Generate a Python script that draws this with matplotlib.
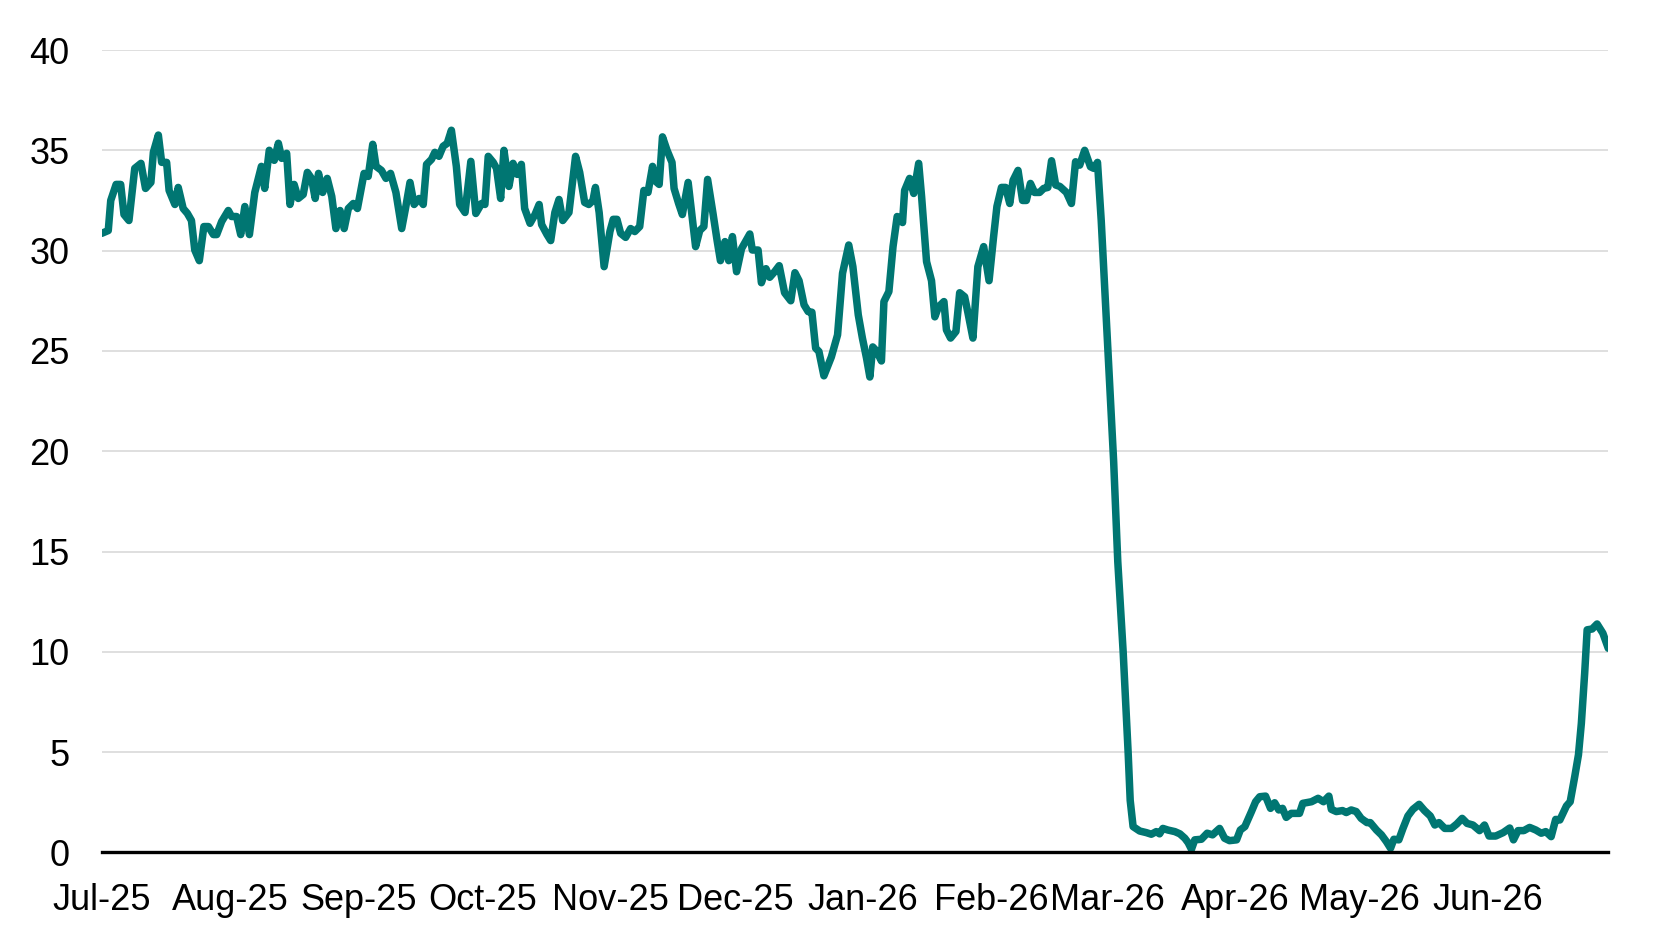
import pandas as pd
import matplotlib
matplotlib.use('Agg')
import matplotlib.pyplot as plt
import matplotlib.dates as mdates

plt.rcParams['font.family'] = ['Liberation Sans', 'DejaVu Sans']

start = '2025-07-01'

# Days after 1 Jul 2025 and the value
days = [0, 1.6, 2.2, 3.5, 4.6, 5.4, 6.6, 8.0, 9.5, 10.6, 11.9, 12.5, 13.7, 14.5, 15.7,
        16.3, 17.7, 18.5, 19.7, 20.7, 21.7, 22.5, 23.6, 24.7, 25.8, 27.0, 27.8, 29.0,
        30.6, 31.4, 32.6, 33.6, 34.6, 35.7, 37.0, 38.6, 39.4, 40.5, 41.7, 42.7, 43.5,
        44.7, 45.5, 46.5, 47.5, 48.7, 49.7, 50.7, 51.6, 52.4, 53.4, 54.5, 55.6, 56.6,
        57.6, 58.6, 59.6, 60.8, 61.8, 63.4, 64.4, 65.5, 66.3, 67.6, 68.7, 69.8, 71.1,
        72.5, 73.5, 74.5, 75.5, 76.7, 77.7, 78.5, 79.7, 80.5, 81.5, 82.5, 83.5, 84.5,
        85.7, 86.5, 87.8, 89.2, 90.4, 91.8, 92.6, 93.4, 94.6, 95.4, 96.4, 97.2, 98.4,
        99.4, 100.4, 101.4, 102.2, 103.5, 104.7, 105.7, 106.3, 107.6, 108.5, 109.5,
        110.5, 111.4, 112.9, 114.5, 115.5, 116.7, 117.7, 118.7, 119.3, 120.2, 121.4,
        122.8, 123.6, 124.5, 125.4, 126.6, 127.8, 128.8, 130.0, 131.0, 132.0, 133.1,
        133.6, 134.7, 135.5, 136.6, 137.8, 138.3, 139.4, 140.3, 141.7, 143.5, 144.5,
        145.5, 146.4, 147.7, 148.7, 149.5, 150.6, 151.5, 152.4, 153.4, 154.6, 156.6,
        157.2, 158.6, 159.4, 160.5, 161.4, 162.6, 163.7, 165.0, 166.5, 167.5, 168.5,
        169.7, 170.7, 171.6, 172.5, 173.3, 174.5, 176.3, 177.8, 179.0, 180.5, 181.5,
        182.8, 183.8, 184.8, 185.6, 186.3, 187.2, 188.4, 189.0, 190.2, 191.2, 192.2,
        193.5, 194.0, 195.2, 196.2, 197.4, 198.1, 199.3, 200.5, 201.3, 202.2, 203.5,
        204.1, 205.1, 206.4, 207.3, 208.5, 209.3, 210.5, 211.7, 213.1, 214.4, 215.5,
        216.3, 217.4, 218.4, 219.4, 220.2, 221.4, 222.5, 223.4, 224.4, 225.4, 226.6,
        227.6, 228.6, 229.5, 230.5, 231.5, 233.1, 234.3, 235.3, 236.3, 237.5, 238.9,
        239.7, 240.6, 241.5, 243.0, 244.5, 245.5, 246.8, 248.0, 248.5, 249.2, 250.8,
        252.4, 253.6, 254.8, 255.6, 256.4, 257.6, 259.3, 260.5, 261.7, 262.5, 263.3,
        264.1, 265.7, 267.1, 268.4, 270.1, 271.3, 272.5, 274.2, 275.1, 276.2, 277.8,
        278.8, 279.8, 281.2, 282.4, 283.4, 284.4, 285.3, 286.2, 287.4, 289.4, 290.2,
        292.3, 293.9, 295.2, 296.5, 297.1, 298.3, 299.8, 300.7, 301.9, 303.1, 304.3,
        305.7, 306.5, 308.0, 309.2, 310.4, 311.4, 312.2, 313.4, 314.4, 315.6, 316.8,
        318.3, 319.6, 321.0, 322.1, 323.1, 324.5, 326.1, 327.4, 328.7, 329.9, 331.3,
        332.9, 334.1, 335.2, 336.8, 338.6, 340.2, 341.1, 342.2, 343.6, 345.0, 346.5,
        347.8, 348.9, 350.2, 351.3, 352.3, 353.9, 354.8, 355.9, 356.8, 357.5, 358.3,
        358.9, 360.1, 361.3, 362.7, 364.0]
values = [30.86, 31.0, 32.5, 33.3, 33.3, 31.8, 31.5, 34.1, 34.35, 33.1, 33.4, 34.9, 35.76, 34.4, 34.4,
          33.0, 32.3, 33.15, 32.1, 31.86, 31.5, 30.03, 29.5, 31.2, 31.2, 30.8, 30.8, 31.45,
          32.0, 31.7, 31.7, 30.8, 32.2, 30.8, 32.9, 34.2, 33.1, 35.0, 34.5, 35.35, 34.6,
          34.85, 32.3, 33.3, 32.6, 32.8, 33.9, 33.6, 32.6, 33.85, 32.9, 33.6, 32.7, 31.1,
          32.0, 31.1, 32.1, 32.35, 32.1, 33.85, 33.7, 35.3, 34.2, 34.0, 33.6, 33.85, 32.9,
          31.1, 32.2, 33.4, 32.3, 32.6, 32.3, 34.3, 34.55, 34.9, 34.7, 35.2, 35.35, 36.0,
          34.2, 32.3, 31.9, 34.45, 31.85, 32.35, 32.3, 34.7, 34.4, 34.1, 32.6, 35.0, 33.2,
          34.35, 33.8, 34.3, 32.1, 31.36, 31.8, 32.3, 31.3, 30.8, 30.5, 31.9,
          32.55, 31.5, 31.9, 34.7, 33.9, 32.4, 32.3, 32.5, 33.15, 31.9, 29.2,
          30.95, 31.56, 31.56, 30.86, 30.66, 31.1, 30.95, 31.2, 33.0, 32.9, 34.2,
          33.5, 33.3, 35.67, 35.0, 34.4, 33.1, 32.35, 31.8, 33.4, 30.2, 31.0,
          31.2, 33.55, 31.86, 30.5, 29.5, 30.45, 29.5, 30.7, 28.95, 30.1, 30.83,
          30.03, 30.03, 28.4, 29.1, 28.67, 28.95, 29.25, 27.9, 27.5, 28.9, 28.5,
          27.3, 26.96, 26.93, 25.14, 24.97, 23.76, 24.7, 25.8, 28.87, 30.28, 29.2,
          26.8, 25.64, 24.64, 23.7, 25.2, 25.0, 24.5, 27.46, 27.96, 30.2, 31.7,
          31.4, 33.0, 33.6, 32.85, 34.35, 32.7, 29.45, 28.5, 26.7, 27.2, 27.46,
          26.05, 25.64, 25.97, 27.9, 27.7, 26.9, 25.64, 29.2, 30.2, 28.5, 30.7,
          32.2, 33.15, 33.15, 32.35, 33.5, 34.0, 32.5, 32.5, 33.35, 32.9, 32.9,
          33.1, 33.15, 34.48, 33.27, 33.2, 32.9, 32.35, 34.43, 34.26, 35.0, 34.18,
          34.1, 34.4, 31.5, 25.5, 19.5, 14.5, 10.0, 5.0, 2.6, 1.29, 1.07,
          0.99, 0.91, 1.04, 0.93, 1.2, 1.12, 1.04, 0.93, 0.71, 0.49, 0.16,
          0.63, 0.66, 0.96, 0.88, 1.2, 0.71, 0.59, 0.63, 1.12, 1.29, 2.04,
          2.53, 2.78, 2.81, 2.2, 2.48, 2.12, 2.2, 1.75, 1.95, 1.95, 2.45,
          2.53, 2.7, 2.53, 2.81, 2.15, 2.04, 2.09, 1.99, 2.12, 2.04, 1.7,
          1.49, 1.49, 1.12, 0.88, 0.54, 0.21, 0.66, 0.63, 1.2, 1.82, 2.15,
          2.4, 2.09, 1.82, 1.37, 1.49, 1.2, 1.2, 1.42, 1.7, 1.45, 1.37,
          1.09, 1.37, 0.82, 0.82, 0.99, 1.22, 0.63, 1.09, 1.09, 1.25, 1.12,
          0.96, 1.04, 0.79, 1.65, 1.62, 2.32, 2.53, 3.78, 4.87, 6.44, 8.93,
          11.1, 11.14, 11.39, 10.93, 10.18]
yticks = [0, 5, 10, 15, 20, 25, 30, 35, 40]

dates = pd.Timestamp(start) + pd.to_timedelta(days, unit='D')

fig = plt.figure(figsize=(16.58, 9.47), dpi=100)
ax = fig.add_axes([0.0613, 0.0998, 0.9087, 0.8474])

ax.plot(dates, values, color='#007672', linewidth=5.4,
        solid_joinstyle='round', solid_capstyle='round', zorder=3)

ax.set_ylim(0, 40)
ax.set_yticks(yticks)
ax.set_xlim(dates[0], dates[-1])
ax.xaxis.set_major_locator(mdates.MonthLocator())
ax.xaxis.set_major_formatter(mdates.DateFormatter('%b-%y'))

ax.grid(axis='y', color='#d9d9d9', linewidth=1.2, zorder=0)
ax.set_axisbelow(True)
for side in ['top', 'right', 'left']:
    ax.spines[side].set_visible(False)
ax.spines['bottom'].set_color('black')
ax.spines['bottom'].set_linewidth(2.4)
ax.spines['bottom'].set_zorder(4)

ax.tick_params(axis='both', length=0, labelsize=26)
ax.tick_params(axis='y', pad=23)
ax.tick_params(axis='x', pad=22)

fig.savefig('out.png', dpi=100, facecolor='white')
